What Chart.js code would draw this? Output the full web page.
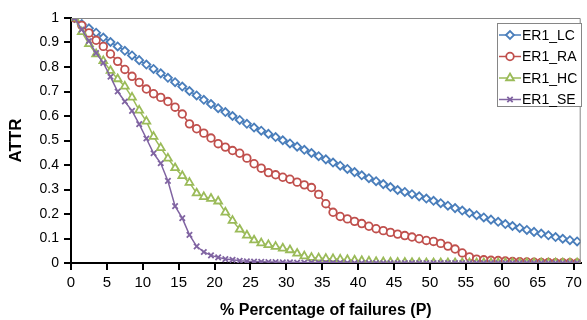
<!DOCTYPE html>
<html lang="en">
<head>
    <meta charset="UTF-8">
    <title>ATTR vs percentage of failures</title>
    <script src="https://cdn.jsdelivr.net/npm/chart.js"></script>
    <style>
        html, body { margin: 0; padding: 0; background: #fff; }
        #wrap { width: 587px; height: 320px; }
    </style>
</head>
<body>
    <div id="wrap"><canvas id="grafico" width="587" height="320"></canvas></div>

    <script>
        // Categories 1..71 (percentage of failures)
        const categories = Array.from({length: 71}, (_, i) => i + 1);
        const xTicks = [0, 5, 10, 15, 20, 25, 30, 35, 40, 45, 50, 55, 60, 65, 70];

        const er1LC = [1.0, 0.975, 0.958, 0.94, 0.92, 0.902, 0.884, 0.866, 0.847, 0.828,
            0.81, 0.792, 0.774, 0.756, 0.738, 0.72, 0.702, 0.684, 0.666, 0.649,
            0.632, 0.616, 0.6, 0.584, 0.568, 0.553, 0.54, 0.527, 0.514, 0.501,
            0.488, 0.475, 0.462, 0.449, 0.436, 0.423, 0.41, 0.397, 0.384, 0.371,
            0.358, 0.346, 0.334, 0.322, 0.31, 0.298, 0.29, 0.281, 0.272, 0.263,
            0.254, 0.244, 0.234, 0.224, 0.214, 0.204, 0.195, 0.186, 0.177, 0.168,
            0.159, 0.151, 0.143, 0.135, 0.127, 0.12, 0.113, 0.106, 0.099, 0.093,
            0.088];

        const er1RA = [1.0, 0.97, 0.939, 0.909, 0.884, 0.853, 0.823, 0.79, 0.762, 0.737,
            0.71, 0.691, 0.676, 0.659, 0.636, 0.608, 0.568, 0.548, 0.53, 0.51,
            0.487, 0.473, 0.459, 0.448, 0.428, 0.405, 0.387, 0.369, 0.36, 0.35,
            0.342, 0.33, 0.319, 0.308, 0.28, 0.242, 0.207, 0.19, 0.18, 0.17,
            0.161, 0.15, 0.14, 0.132, 0.125, 0.118, 0.112, 0.106, 0.099, 0.092,
            0.088, 0.08, 0.069, 0.057, 0.041, 0.025, 0.016, 0.013, 0.011, 0.01,
            0.008, 0.006, 0.005, 0.004, 0.003, 0.002, 0.002, 0.001, 0.001, 0.001,
            0];

        const er1HC = [1.0, 0.943, 0.894, 0.853, 0.825, 0.785, 0.751, 0.721, 0.676, 0.623,
            0.578, 0.516, 0.47, 0.427, 0.388, 0.356, 0.328, 0.285, 0.27, 0.263,
            0.252, 0.207, 0.173, 0.137, 0.113, 0.093, 0.081, 0.074, 0.067, 0.06,
            0.053, 0.039, 0.028, 0.022, 0.02, 0.018, 0.017, 0.015, 0.013, 0.011,
            0.009, 0.007, 0.005, 0.004, 0.003, 0.002, 0.002, 0.001, 0.001, 0,
            0, 0, 0, 0, 0, 0, 0, 0, 0, 0,
            0, 0, 0, 0, 0, 0, 0, 0, 0, 0,
            0];

        const er1SE = [1.0, 0.953, 0.906, 0.857, 0.817, 0.76, 0.7, 0.659, 0.621, 0.567,
            0.508, 0.448, 0.407, 0.335, 0.232, 0.183, 0.115, 0.068, 0.045, 0.031,
            0.023, 0.016, 0.013, 0.009, 0.007, 0.006, 0.005, 0.004, 0.004, 0.003,
            0.003, 0.002, 0.002, 0.002, 0.001, 0.001, 0.001, 0.001, 0, 0,
            0, 0, 0, 0, 0, 0, 0, 0, 0, 0,
            0, 0, 0, 0, 0, 0, 0, 0, 0, 0,
            0, 0, 0, 0, 0, 0, 0, 0, 0, 0,
            0];

        const FONT = "'Liberation Sans', Arial, sans-serif";

        // Excel style category axis: each value sits in the middle of its category
        function toPoints(values) {
            return values.map((v, i) => ({ x: categories[i] - 0.5, y: v }));
        }

        function serie(label, values, color, style, radius, order) {
            return {
                label: label,
                data: toPoints(values),
                borderColor: color,
                backgroundColor: '#ffffff',
                pointBorderColor: color,
                pointBackgroundColor: '#ffffff',
                pointStyle: style,
                pointRadius: radius,
                pointBorderWidth: 1.8,
                borderWidth: 1.5,
                tension: 0,
                fill: false,
                order: order
            };
        }

        // Frame on top/right and the boxed legend
        const frameLegend = {
            id: 'frameLegend',
            afterDraw(chart) {
                const c = chart.ctx;
                const a = chart.chartArea;
                c.save();
                c.strokeStyle = '#868686';
                c.lineWidth = 1;
                c.beginPath();
                c.moveTo(a.left, a.top + 0.5);
                c.lineTo(a.right - 0.5, a.top + 0.5);
                c.lineTo(a.right - 0.5, a.bottom);
                c.stroke();

                // legend box
                const bx = 497, by = 23, bw = 84, bh = 83;
                c.fillStyle = '#ffffff';
                c.fillRect(bx, by, bw, bh);
                c.strokeStyle = '#868686';
                c.strokeRect(bx + 0.5, by + 0.5, bw, bh);

                c.font = '14px ' + FONT;
                c.textBaseline = 'middle';
                c.textAlign = 'left';
                chart.data.datasets.forEach((ds, i) => {
                    const y = by + 12 + i * 21.5;
                    c.strokeStyle = ds.borderColor;
                    c.lineWidth = 1.5;
                    c.beginPath();
                    c.moveTo(bx + 2, y);
                    c.lineTo(bx + 24, y);
                    c.stroke();
                    c.fillStyle = '#ffffff';
                    c.lineWidth = 1.8;
                    Chart.helpers.drawPoint(c, {
                        pointStyle: ds.pointStyle,
                        radius: ds.pointRadius,
                        borderWidth: 1.8,
                        rotation: 0
                    }, bx + 13, y);
                    c.fillStyle = '#000000';
                    c.fillText(ds.label, bx + 25, y + 1);
                });
                c.restore();
            }
        };

        const ctx = document.getElementById('grafico').getContext('2d');
        const chart = new Chart(ctx, {
            type: 'line',
            data: {
                datasets: [
                    serie('ER1_LC', er1LC, '#4a7ebb', 'rectRot', 4, 4),
                    serie('ER1_RA', er1RA, '#c0504d', 'circle', 3.8, 3),
                    serie('ER1_HC', er1HC, '#9bbb59', 'triangle', 4.5, 2),
                    serie('ER1_SE', er1SE, '#8064a2', 'crossRot', 3.8, 1)
                ]
            },
            options: {
                responsive: false,
                animation: false,
                layout: { padding: { top: 18, right: 2, left: 0, bottom: 0 } },
                plugins: {
                    legend: { display: false },
                    tooltip: { enabled: false }
                },
                scales: {
                    x: {
                        type: 'linear',
                        min: 0,
                        max: 71,
                        afterFit(scale) { scale.height = 57; },
                        afterBuildTicks(scale) {
                            scale.ticks = xTicks.map(v => ({ value: v }));
                        },
                        grid: {
                            drawOnChartArea: false,
                            drawTicks: true,
                            tickLength: 7,
                            color: '#000000',
                            lineWidth: 2
                        },
                        border: { color: '#000000', width: 2 },
                        ticks: {
                            color: '#000000',
                            font: { family: FONT, size: 15 },
                            padding: 4,
                            maxRotation: 0,
                            autoSkip: false
                        },
                        title: {
                            display: true,
                            text: '% Percentage of failures (P)',
                            color: '#000000',
                            font: { family: FONT, size: 16, weight: 'bold' },
                            padding: { top: 4, bottom: 0 }
                        }
                    },
                    y: {
                        min: 0,
                        max: 1,
                        afterFit(scale) { scale.width = 71; },
                        grid: {
                            drawOnChartArea: false,
                            drawTicks: true,
                            tickLength: 7,
                            color: '#000000',
                            lineWidth: 2
                        },
                        border: { color: '#000000', width: 2 },
                        ticks: {
                            stepSize: 0.1,
                            color: '#000000',
                            font: { family: FONT, size: 14 },
                            padding: 5,
                            callback: v => String(Math.round(v * 10) / 10)
                        },
                        title: {
                            display: true,
                            text: 'ATTR',
                            color: '#000000',
                            font: { family: FONT, size: 17, weight: 'bold' },
                            padding: { top: 6, bottom: 4 }
                        }
                    }
                }
            },
            plugins: [frameLegend]
        });
    </script>
</body>
</html>
